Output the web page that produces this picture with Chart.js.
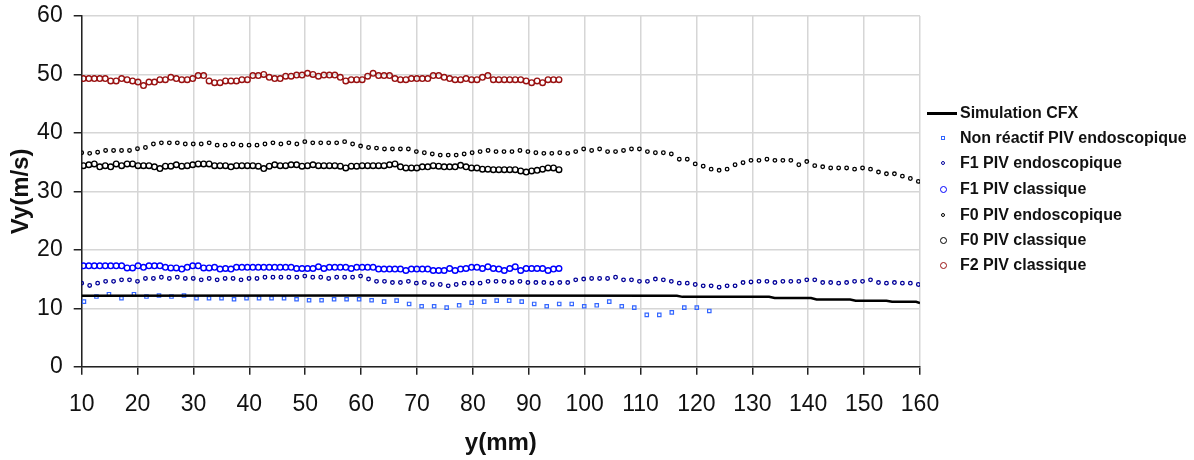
<!DOCTYPE html>
<html>
<head>
<meta charset="utf-8">
<script src="https://cdn.jsdelivr.net/npm/chart.js@4/dist/chart.umd.min.js"></script>
<style>
  body { margin: 0; background: #fff; }
  #wrap { position: relative; width: 1194px; height: 460px; }
  #legend { position: absolute; left: 925px; top: 100px; font: bold 16px "Liberation Sans", Arial, sans-serif; color: #111; }
  .row { position: absolute; left: 0; height: 26px; line-height: 26px; white-space: nowrap; }
  .mk { position: absolute; box-sizing: border-box; }
  .lbl { position: absolute; left: 35px; top: 0; }
</style>
</head>
<body>
<div id="wrap">
  <canvas id="chart" width="1194" height="460"></canvas>
  <div id="legend"></div>
</div>
<script>
// libellés des séries (ordre de la légende)
const seriesNames = ['Simulation CFX', 'Non réactif PIV endoscopique', 'F1 PIV endoscopique',
    'F1 PIV classique', 'F0 PIV endoscopique', 'F0 PIV classique', 'F2 PIV classique'];

// simulation CFX (ligne)
const cfxX = [10, 60, 116.5, 117.5, 133, 134, 140.5, 141.5, 147.5, 148.5, 154, 155, 159.3, 160];
const cfxY = [12.15, 12.2, 12.15, 11.95, 11.95, 11.75, 11.75, 11.5, 11.5, 11.3, 11.3, 11.1, 11.1, 10.9];

// PIV classique : de 10.3 à 95.4 mm
const classiqueRange = [10.3, 95.4];
const f2Classique = [49.3,49.3,49.3,49.3,49.3,48.9,48.9,49.3,49.1,48.9,
    48.7,48.1,48.7,48.7,49.1,49.1,49.5,49.3,49.1,49.1,
    49.3,49.8,49.8,48.9,48.6,48.6,48.9,48.9,48.9,49.1,
    49.1,49.8,49.8,50.0,49.5,49.3,49.3,49.7,49.7,49.9,
    49.9,50.2,50.0,49.7,49.9,49.9,49.9,49.5,48.9,49.1,
    49.1,49.1,49.7,50.2,49.8,49.8,49.8,49.3,49.1,49.1,
    49.3,49.3,49.3,49.3,49.8,49.8,49.5,49.3,49.1,49.1,
    49.3,49.1,49.1,49.5,49.8,49.1,49.1,49.1,49.1,49.1,
    49.1,48.9,48.6,48.9,48.6,49.1,49.1,49.1];
const f0Classique = [34.4,34.55,34.7,34.2,34.4,34.2,34.7,34.4,34.7,34.7,
    34.4,34.4,34.4,34.2,33.9,34.3,34.3,34.55,34.3,34.4,
    34.55,34.7,34.7,34.7,34.4,34.4,34.4,34.2,34.4,34.4,
    34.4,34.4,34.3,33.9,34.3,34.55,34.4,34.4,34.55,34.55,
    34.3,34.4,34.55,34.4,34.4,34.4,34.4,34.3,34.0,34.3,
    34.3,34.4,34.4,34.4,34.4,34.4,34.55,34.7,34.2,34.0,
    34.0,34.0,34.2,34.2,34.4,34.3,34.2,34.2,34.2,34.45,
    34.2,34.0,34.0,33.8,33.8,33.7,33.7,33.7,33.7,33.7,
    33.5,33.3,33.5,33.6,33.8,34.0,34.0,33.7];
const f1Classique = [17.26,17.26,17.26,17.26,17.26,17.26,17.26,17.26,16.9,16.9,
    17.26,17.0,17.26,17.26,17.26,17.0,16.9,16.9,16.7,17.0,
    17.26,17.26,16.9,16.9,17.0,16.7,16.8,16.7,17.0,17.0,
    17.0,17.0,17.0,17.0,17.0,17.0,17.0,17.0,17.0,16.8,
    16.8,16.8,16.8,17.1,16.8,17.0,17.0,17.0,17.0,16.8,
    17.0,17.0,17.0,17.0,16.7,16.7,16.7,16.7,16.7,16.46,
    16.7,16.7,16.7,16.7,16.46,16.46,16.46,16.8,16.46,16.7,
    16.8,17.0,17.0,16.8,17.1,16.8,16.7,16.46,16.8,17.1,
    16.46,16.8,16.8,16.8,16.8,16.46,16.7,16.8];

// PIV endoscopique : de 10 à 159.7 mm
const endoRange = [10, 159.7];
const f0Endo = [36.6,36.5,36.7,37.0,37.0,37.0,37.0,37.3,37.5,38.1,
    38.3,38.3,38.3,38.1,38.1,38.1,38.3,37.9,37.9,38.1,
    37.9,37.9,37.9,38.1,38.3,38.1,38.3,38.1,38.5,38.3,
    38.3,38.3,38.3,38.5,38.1,37.75,37.5,
    37.4,37.25,37.25,37.25,37.25,36.8,36.6,36.4,36.2,36.2,
    36.2,36.4,36.6,36.8,37.0,36.8,36.8,36.8,37.0,36.8,
    36.6,36.5,36.5,36.6,36.5,36.8,37.25,37.0,37.25,36.8,
    36.8,37.0,37.25,37.25,36.8,36.6,
    36.6,36.4,35.5,35.5,34.7,34.3,33.8,33.6,33.8,34.55,
    34.9,35.3,35.3,35.5,35.3,35.3,35.3,34.55,35.1,34.4,
    34.2,34.0,34.0,34.0,33.8,34.0,33.8,33.3,33.0,33.0,
    32.6,32.2,31.7];
const f1Endo = [14.29,13.9,14.29,14.6,14.6,14.86,14.86,14.6,15.1,15.1,
    15.3,15.1,15.3,15.1,15.1,14.86,15.1,14.86,15.1,15.1,
    14.86,15.1,15.1,15.3,15.3,15.3,15.3,15.3,15.5,15.3,
    15.3,15.1,15.3,15.3,15.3,15.5,15.0,
    14.6,14.6,14.4,14.4,14.6,14.29,14.4,14.06,14.06,13.83,
    14.06,14.29,14.29,14.29,14.6,14.6,14.6,14.4,14.6,14.4,
    14.4,14.4,14.29,14.4,14.4,14.86,15.0,15.1,15.1,15.1,
    15.3,14.86,14.86,14.6,14.6,15.0,
    14.86,14.6,14.29,14.29,14.06,13.83,13.83,13.6,13.83,13.83,
    14.4,14.5,14.6,14.6,14.4,14.6,14.6,14.6,14.86,14.86,
    14.4,14.4,14.29,14.4,14.6,14.6,14.86,14.4,14.29,14.4,
    14.29,14.29,14.06];

// non réactif : de 10.4 à 122.3 mm
const nonReactifRange = [10.4, 122.3];
const nonReactif = [11.14,12.0,12.4,11.71,12.4,12.0,12.17,12.0,12.17,11.71,
    11.71,11.71,11.54,11.71,11.71,11.71,11.71,11.54,11.37,11.37,
    11.54,11.54,11.54,11.37,
    11.14,11.3,10.74,10.34,10.34,10.1,10.5,10.97,11.14,11.3,
    11.3,11.14,10.74,10.34,10.74,10.74,10.34,10.5,11.14,10.34,
    10.1,8.86,8.86,
    9.3,10.1,10.1,9.54];

// axes
const xTicks = [10, 160, 10];   // min, max, pas
const yTicks = [0, 60, 10];

// positions de mesure régulières entre le premier et le dernier point
function spaced(range, n) {
    const step = (range[1] - range[0]) / (n - 1);
    return Array.from({length: n}, (_, i) => range[0] + i * step);
}
function pts(xs, ys) {
    return ys.map((y, i) => ({x: xs[i], y: y}));
}

const classiqueX = spaced(classiqueRange, f2Classique.length);
const endoX = spaced(endoRange, f0Endo.length);
const nonReactifX = spaced(nonReactifRange, nonReactif.length);

const colors = ['#000000', '#3366ff', '#000099', '#0000ff', '#000000', '#000000', '#991111'];

Chart.defaults.font.family = '"Liberation Sans", Arial, sans-serif';
Chart.defaults.color = '#111';

function markerSet(label, data, color, style, radius, bw) {
    return {
        label: label,
        data: data,
        showLine: false,
        pointStyle: style,
        pointRadius: radius,
        pointBorderWidth: bw,
        borderColor: color,
        pointBackgroundColor: 'rgba(255,255,255,0)',
        backgroundColor: 'rgba(255,255,255,0)'
    };
}

const datasets = [
    {
        label: seriesNames[0],
        data: pts(cfxX, cfxY),
        showLine: true,
        borderColor: colors[0],
        borderWidth: 2.5,
        pointRadius: 0,
        tension: 0
    },
    markerSet(seriesNames[1], pts(nonReactifX, nonReactif), colors[1], 'rect', 2.4, 1.2),
    markerSet(seriesNames[2], pts(endoX, f1Endo), colors[2], 'circle', 1.8, 1.3),
    markerSet(seriesNames[3], pts(classiqueX, f1Classique), colors[3], 'circle', 2.8, 1.4),
    markerSet(seriesNames[4], pts(endoX, f0Endo), colors[4], 'circle', 1.8, 1.3),
    markerSet(seriesNames[5], pts(classiqueX, f0Classique), colors[5], 'circle', 2.8, 1.4),
    markerSet(seriesNames[6], pts(classiqueX, f2Classique), colors[6], 'circle', 2.8, 1.4)
];

const gridOpts = {
    color: '#d6d6d6',
    lineWidth: 1.5,
    tickColor: '#222',
    tickLength: 8,
    tickWidth: 1.5
};

new Chart(document.getElementById('chart').getContext('2d'), {
    type: 'scatter',
    data: { datasets: datasets },
    options: {
        responsive: false,
        animation: false,
        layout: { padding: { top: 16, right: 274, bottom: 0, left: 0 } },
        plugins: { legend: { display: false }, tooltip: { enabled: false } },
        scales: {
            x: {
                type: 'linear',
                min: xTicks[0], max: xTicks[1],
                ticks: { stepSize: xTicks[2], autoSkip: false, maxRotation: 0, font: { size: 23 }, padding: 16 },
                grid: gridOpts,
                border: { color: '#222', width: 1.5 },
                title: { display: true, text: 'y(mm)', font: { size: 24, weight: 'bold' }, padding: { top: 0, bottom: 2 } },
                afterFit: s => { s.height = 93.3; }
            },
            y: {
                min: yTicks[0], max: yTicks[1],
                ticks: { stepSize: yTicks[2], font: { size: 23 }, padding: 11 },
                grid: gridOpts,
                border: { color: '#222', width: 1.5 },
                title: { display: true, text: 'Vy(m/s)', font: { size: 24, weight: 'bold' }, padding: { top: 7, bottom: 0 } },
                afterFit: s => { s.width = 81.7; s.paddingTop = 0; s.paddingBottom = 0; }
            }
        }
    }
});

// légende HTML à droite
const legend = document.getElementById('legend');
const rowCenters = [113, 138, 163, 189, 215, 240, 265];
const markerSizes = [0, 4.5, 4.5, 7, 4.5, 7, 7];
seriesNames.forEach((name, i) => {
    const row = document.createElement('div');
    row.className = 'row';
    row.style.top = (rowCenters[i] - 100 - 13) + 'px';
    const mk = document.createElement('div');
    mk.className = 'mk';
    if (i === 0) {
        mk.style.left = '2px';
        mk.style.width = '30px';
        mk.style.height = '2.5px';
        mk.style.top = '12px';
        mk.style.background = colors[0];
    } else {
        const s = markerSizes[i];
        mk.style.left = (18 - s / 2) + 'px';
        mk.style.top = (13 - s / 2) + 'px';
        mk.style.width = s + 'px';
        mk.style.height = s + 'px';
        mk.style.border = '1.3px solid ' + colors[i];
        if (i !== 1) mk.style.borderRadius = '50%';
    }
    const lbl = document.createElement('span');
    lbl.className = 'lbl';
    lbl.textContent = name;
    row.appendChild(mk);
    row.appendChild(lbl);
    legend.appendChild(row);
});
</script>
</body>
</html>
